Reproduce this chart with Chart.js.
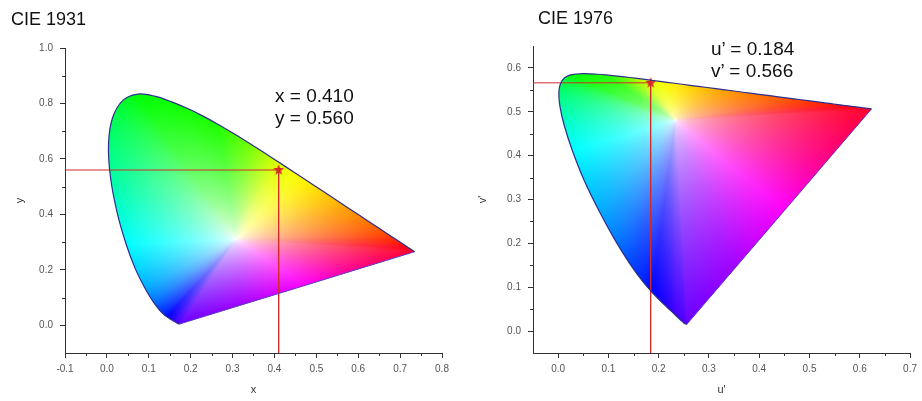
<!DOCTYPE html>
<html><head><meta charset="utf-8">
<script src="https://cdn.jsdelivr.net/npm/chart.js@4.4.1/dist/chart.umd.min.js"></script>
<style>
html,body{margin:0;padding:0;background:#fff;}
#wrap{position:relative;width:922px;height:401px;overflow:hidden;background:#fff;}
.box{position:absolute;top:0;height:401px;}
.t{position:absolute;font-family:'Liberation Sans',Arial,sans-serif;color:#111;white-space:nowrap;}
.title{font-size:18px;line-height:18px;}
.ann{font-size:19px;line-height:22px;}
</style></head><body>
<div id="wrap">
  <div class="box" style="left:0;width:460px"><canvas id="c1" width="460" height="401"></canvas></div>
  <div class="box" style="left:460px;width:462px"><canvas id="c2" width="462" height="401"></canvas></div>
  <div class="t title" id="title1" style="left:11px;top:10px">CIE 1931</div>
  <div class="t title" id="title2" style="left:538px;top:9px">CIE 1976</div>
  <div class="t ann" id="ann1" style="left:275px;top:85px"></div>
  <div class="t ann" id="ann2" style="left:711px;top:38px"></div>
</div>
<script>
// ---------------- DATA ----------------
const wavelengths = [380,400,420,430,435,440,445,450,455,460,465,470,475,480,485,490,495,500,505,510,515,520,525,530,535,540,545,550,555,560,565,570,575,580,585,590,595,600,605,610,615,620,625,630,635,640,645,650,660,680,700];
const cieX = [0.1741,0.1733,0.1714,0.1689,0.1669,0.1644,0.1611,0.1566,0.1510,0.1440,0.1355,0.1241,0.1096,0.0913,0.0687,0.0454,0.0235,0.0082,0.0039,0.0139,0.0389,0.0743,0.1142,0.1547,0.1929,0.2296,0.2658,0.3016,0.3373,0.3731,0.4087,0.4441,0.4788,0.5125,0.5448,0.5752,0.6029,0.6270,0.6482,0.6658,0.6801,0.6915,0.7006,0.7079,0.7140,0.7190,0.7230,0.7260,0.7300,0.7334,0.7347];
const cieY = [0.0050,0.0048,0.0051,0.0069,0.0086,0.0109,0.0138,0.0177,0.0227,0.0297,0.0399,0.0578,0.0868,0.1327,0.2007,0.2950,0.4127,0.5384,0.6548,0.7502,0.8120,0.8338,0.8262,0.8059,0.7816,0.7543,0.7243,0.6923,0.6589,0.6245,0.5896,0.5547,0.5202,0.4866,0.4544,0.4242,0.3965,0.3725,0.3514,0.3340,0.3197,0.3083,0.2993,0.2920,0.2859,0.2809,0.2770,0.2740,0.2700,0.2666,0.2653];
const uPrime = [0.2568,0.2557,0.2522,0.2461,0.2411,0.2347,0.2266,0.2161,0.2033,0.1877,0.1690,0.1441,0.1147,0.0828,0.0521,0.0282,0.0119,0.0035,0.0014,0.0046,0.0123,0.0231,0.0360,0.0501,0.0643,0.0792,0.0953,0.1127,0.1319,0.1531,0.1766,0.2026,0.2312,0.2623,0.2960,0.3315,0.3681,0.4035,0.4379,0.4692,0.4968,0.5203,0.5399,0.5565,0.5709,0.5830,0.5929,0.6005,0.6109,0.6199,0.6234];
const vPrime = [0.0166,0.0159,0.0169,0.0226,0.0279,0.0350,0.0437,0.0549,0.0688,0.0871,0.1119,0.1510,0.2044,0.2708,0.3427,0.4117,0.4698,0.5131,0.5432,0.5638,0.5770,0.5837,0.5861,0.5868,0.5865,0.5856,0.5841,0.5821,0.5796,0.5766,0.5732,0.5694,0.5651,0.5604,0.5554,0.5501,0.5446,0.5393,0.5342,0.5296,0.5254,0.5219,0.5190,0.5165,0.5143,0.5125,0.5111,0.5099,0.5084,0.5070,0.5065];
const markerXY = [0.410, 0.560];
const markerUV = [0.184, 0.566];
const rangeX1931 = [-0.1, 0.8];
const rangeY1931 = [-0.1, 1.0];
const rangeU1976 = [-0.05, 0.7];
const rangeV1976 = [-0.05, 0.65];
const ticksX1931 = [-0.1,0.0,0.1,0.2,0.3,0.4,0.5,0.6,0.7,0.8];
const labelsX1931 = ['-0.1','0.0','0.1','0.2','0.3','0.4','0.5','0.6','0.7','0.8'];
const ticksY1931 = [0.0,0.2,0.4,0.6,0.8,1.0];
const labelsY1931 = ['0.0','0.2','0.4','0.6','0.8','1.0'];
const ticksU1976 = [0.0,0.1,0.2,0.3,0.4,0.5,0.6,0.7];
const labelsU1976 = ['0.0','0.1','0.2','0.3','0.4','0.5','0.6','0.7'];
const ticksV1976 = [0.0,0.1,0.2,0.3,0.4,0.5,0.6];
const labelsV1976 = ['0.0','0.1','0.2','0.3','0.4','0.5','0.6'];

// ---------------- STYLE (colour stops for the diagram fill) ----------------
const hueStops = [[380,[110,0,255]],[440,[70,0,255]],[460,[0,0,255]],[470,[0,70,255]],[480,[0,170,255]],[490,[0,255,255]],[500,[0,255,160]],[510,[0,255,80]],[520,[0,255,0]],[545,[30,255,0]],[555,[110,255,0]],[565,[220,255,0]],[572,[255,255,0]],[580,[255,215,0]],[590,[255,160,0]],[600,[255,115,0]],[620,[255,40,0]],[640,[255,0,25]],[700,[255,0,45]]];
const purpleStops = [[0,[255,0,45]],[0.25,[255,0,140]],[0.47,[255,0,250]],[0.75,[160,0,255]],[1,[105,0,255]]];
const FONT = "'Liberation Sans', Arial, sans-serif";
const LOCUS_COLOR = '#2e2e8c';
const PURPLE_EDGE = '#5a3cc8';
const GUIDE_COLOR = '#d42a2a';

function lerpStops(stops, v){
  if (v <= stops[0][0]) return stops[0][1];
  for (let i=0;i<stops.length-1;i++){
    const a=stops[i], b=stops[i+1];
    if (v<=b[0]){ const t=(v-a[0])/(b[0]-a[0]); return [0,1,2].map(k=>a[1][k]+(b[1][k]-a[1][k])*t); }
  }
  return stops[stops.length-1][1];
}
const vertexColors = wavelengths.map(w=>lerpStops(hueStops,w));
function chromaColor(x,y,PX,PY,W,gamma){
  const WX=W[0], WY=W[1];
  const dx=x-WX, dy=y-WY;
  const n=PX.length;
  if (Math.abs(dx)<1e-9 && Math.abs(dy)<1e-9) return [255,255,255];
  let bestT=Infinity, bestI=-1, bestS=0;
  for (let i=0;i<n;i++){
    const j=(i+1)%n;
    const ax=PX[i], ay=PY[i];
    const ex=PX[j]-ax, ey=PY[j]-ay;
    const den = dx*ey - dy*ex;
    if (Math.abs(den)<1e-14) continue;
    const wx=ax-WX, wy=ay-WY;
    const t=(wx*ey-wy*ex)/den;
    const s=(wx*dy-wy*dx)/den;
    if (s>=-1e-9 && s<=1+1e-9 && t>0 && t<bestT){bestT=t;bestI=i;bestS=s;}
  }
  if (bestI<0) return null;
  const r = 1/bestT;
  if (r>1.06) return null;
  let c;
  if (bestI===n-1) c = lerpStops(purpleStops, bestS);
  else { const a=vertexColors[bestI], b=vertexColors[bestI+1]; c=[0,1,2].map(k=>a[k]+(b[k]-a[k])*bestS); }
  const rr=Math.min(r,1);
  const sat = Math.pow(rr,gamma);
  return [0,1,2].map(k=>255*(1-sat)+c[k]*sat);
}

const colorFill = {
  id:'colorFill',
  beforeDatasetsDraw(chart, args, opts){
    const {ctx, chartArea:a} = chart;
    const sx=chart.scales.x, sy=chart.scales.y;
    const w=Math.ceil(a.right-a.left), h=Math.ceil(a.bottom-a.top);
    const off=document.createElement('canvas'); off.width=w; off.height=h;
    const octx=off.getContext('2d'); const img=octx.createImageData(w,h);
    for (let py=0;py<h;py++){
      const dv = sy.getValueForPixel(a.top+py+0.5);
      for (let px=0;px<w;px++){
        const du = sx.getValueForPixel(a.left+px+0.5);
        const col = chromaColor(du,dv,opts.px,opts.py,opts.white,opts.gamma);
        if (!col) continue;
        const idx=(py*w+px)*4;
        img.data[idx]=col[0]; img.data[idx+1]=col[1]; img.data[idx+2]=col[2]; img.data[idx+3]=255;
      }
    }
    octx.putImageData(img,0,0);
    const meta = chart.getDatasetMeta(0);
    const line = meta.dataset;
    ctx.save();
    ctx.beginPath();
    if (line && typeof line.path === 'function') {
      line.updateControlPoints(chart.chartArea, 'x');
      line.path(ctx);
    } else {
      meta.data.forEach((pt,i)=>{ if(i===0) ctx.moveTo(pt.x,pt.y); else ctx.lineTo(pt.x,pt.y); });
    }
    ctx.closePath();
    ctx.clip();
    ctx.drawImage(off,a.left,a.top);
    ctx.restore();
  }
};

const minorTicks = {
  id:'minorTicks',
  afterDraw(chart){
    const {ctx, chartArea:a} = chart;
    ctx.save(); ctx.strokeStyle='#333'; ctx.lineWidth=1;
    ['x','y'].forEach(id=>{
      const s=chart.scales[id]; const vals=s.ticks.map(t=>t.value);
      for (let i=0;i<vals.length-1;i++){
        const m=(vals[i]+vals[i+1])/2;
        const p=Math.round(s.getPixelForValue(m));
        ctx.beginPath();
        if (id==='x'){ ctx.moveTo(p+0.5,a.bottom); ctx.lineTo(p+0.5,a.bottom+3); }
        else { ctx.moveTo(a.left-3,p+0.5); ctx.lineTo(a.left,p+0.5); }
        ctx.stroke();
      }
    });
    ctx.restore();
  }
};

function makeStar(color){
  const c=document.createElement('canvas'); c.width=12; c.height=12;
  const g=c.getContext('2d'); g.fillStyle=color; g.beginPath();
  for (let k=0;k<10;k++){ const ang=-Math.PI/2+k*Math.PI/5; const rad=k%2===0?5.8:2.4; g.lineTo(6+rad*Math.cos(ang),6+rad*Math.sin(ang)); }
  g.closePath(); g.fill(); return c;
}
const star = makeStar(GUIDE_COLOR);

function axis(range, ticks, labels, title, fitSize, isX, titlePad){
  return {
    type:'linear', min:range[0], max:range[1],
    afterBuildTicks: s=>{ s.ticks = ticks.map(v=>({value:v})); },
    afterFit: s=>{ if(isX) s.height=fitSize; else s.width=fitSize; },
    ticks:{ callback:(v,i)=>labels[i], color:'#555', font:{family:FONT,size:10}, padding:isX?5:7, maxRotation:0, autoSkip:false },
    grid:{ drawOnChartArea:false, drawTicks:true, tickLength:5, color:'#333', lineWidth:1 },
    border:{ display:true, color:'#333', width:1 },
    title:{ display:true, text:title, color:'#333', font:{family:FONT,size:11}, padding: titlePad }
  };
}

function build(id, xs, ys, marker, rx, ry, tx, lx, ty, ly, tX, tY, yWidth, padding, yTitlePad, white, gamma){
  const locus = xs.map((v,i)=>({x:v,y:ys[i]}));
  const n = xs.length;
  const purple = [{x:xs[n-1],y:ys[n-1]},{x:xs[0],y:ys[0]}];
  return new Chart(document.getElementById(id), {
    type:'scatter',
    data:{ datasets:[
      { data:locus, showLine:true, borderColor:LOCUS_COLOR, borderWidth:1.2, pointRadius:0, tension:0.35, fill:false },
      { data:purple, showLine:true, borderColor:PURPLE_EDGE, borderWidth:1, pointRadius:0, tension:0 },
      { data:[{x:rx[0],y:marker[1]},{x:marker[0],y:marker[1]}], showLine:true, borderColor:GUIDE_COLOR, borderWidth:1, pointRadius:0 },
      { data:[{x:marker[0],y:marker[1]},{x:marker[0],y:ry[0]}], showLine:true, borderColor:GUIDE_COLOR, borderWidth:1, pointRadius:0 },
      { data:[{x:marker[0],y:marker[1]}], pointStyle:star, pointRadius:6, showLine:false }
    ]},
    options:{
      responsive:false, animation:false, devicePixelRatio:1,
      layout:{ padding:padding },
      plugins:{ legend:{display:false}, tooltip:{enabled:false}, colorFill:{px:xs, py:ys, white:white, gamma:gamma} },
      scales:{
        x: axis(rx, tx, lx, tX, 48, true, {top:0,bottom:4}),
        y: axis(ry, ty, ly, tY, yWidth, false, {top:yTitlePad,bottom:0})
      }
    },
    plugins:[colorFill, minorTicks]
  });
}

build('c1', cieX, cieY, markerXY, rangeX1931, rangeY1931, ticksX1931, labelsX1931, ticksY1931, labelsY1931, 'x', 'y', 65, {left:0,right:18,top:48,bottom:0}, 13, [0.31,0.31], 0.65);
build('c2', uPrime, vPrime, markerUV, rangeU1976, rangeV1976, ticksU1976, labelsU1976, ticksV1976, labelsV1976, "u'", "v'", 73, {left:0,right:8,top:46,bottom:0}, 16, [0.233,0.48], 0.5);

document.getElementById('ann1').innerHTML = 'x = ' + markerXY[0].toFixed(3) + '<br>y = ' + markerXY[1].toFixed(3);
document.getElementById('ann2').innerHTML = 'u\u2019 = ' + markerUV[0].toFixed(3) + '<br>v\u2019 = ' + markerUV[1].toFixed(3);
</script>
</body></html>
